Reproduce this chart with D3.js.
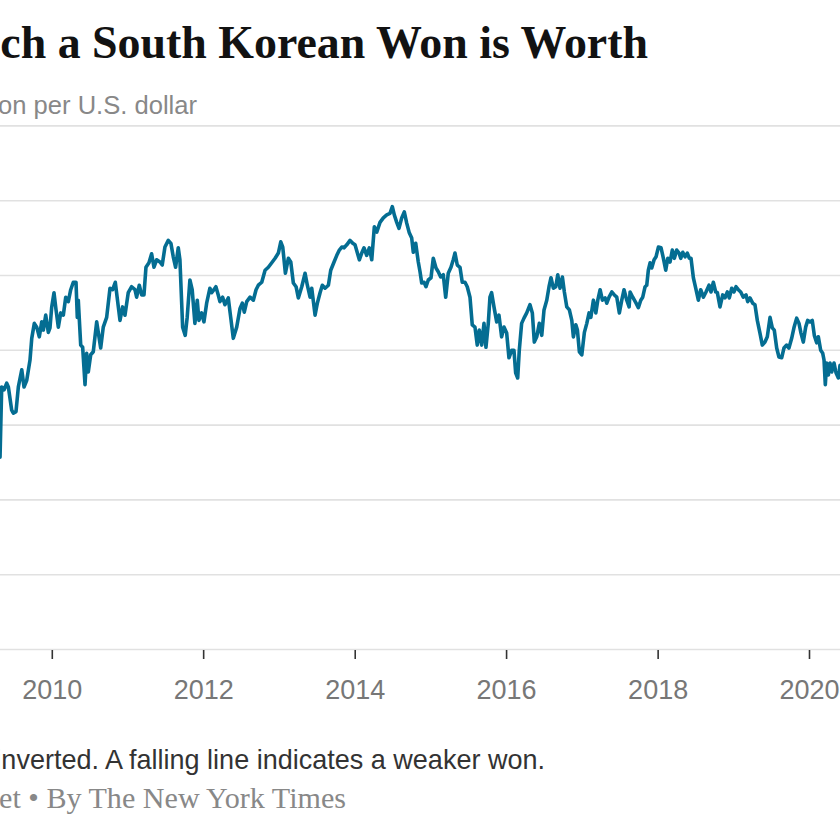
<!DOCTYPE html>
<html>
<head>
<meta charset="utf-8">
<script src="https://cdn.jsdelivr.net/npm/d3@7"></script>
<style>
  html, body { margin: 0; padding: 0; background: #fff; }
  svg { display: block; }
</style>
</head>
<body>
<svg id="chart" width="840" height="840"></svg>
<script>
// ---- Data (decimal year, won per U.S. dollar) ----
const dateValues = [
  2009.316,2009.338,2009.369,2009.404,2009.426,2009.470,2009.492,2009.527,2009.558,2009.603,
  2009.633,2009.669,2009.712,2009.735,2009.769,2009.801,2009.835,2009.867,2009.888,2009.920,
  2009.954,2009.976,2009.999,2010.029,2010.056,2010.086,2010.118,2010.152,2010.184,2010.218,
  2010.250,2010.284,2010.320,2010.337,2010.350,2010.382,2010.408,2010.439,2010.461,2010.482,
  2010.514,2010.548,2010.593,2010.646,2010.680,2010.725,2010.769,2010.804,2010.839,2010.901,
  2010.936,2010.967,2011.010,2011.055,2011.099,2011.121,2011.156,2011.187,2011.218,2011.244,
  2011.284,2011.319,2011.350,2011.385,2011.429,2011.459,2011.495,2011.539,2011.574,2011.605,
  2011.636,2011.671,2011.693,2011.729,2011.763,2011.789,2011.825,2011.855,2011.891,2011.922,
  2011.944,2011.980,2012.010,2012.046,2012.089,2012.112,2012.142,2012.168,2012.199,2012.221,
  2012.257,2012.287,2012.331,2012.363,2012.397,2012.442,2012.486,2012.516,2012.542,2012.574,
  2012.618,2012.661,2012.697,2012.727,2012.772,2012.816,2012.859,2012.904,2012.948,2012.991,
  2013.023,2013.049,2013.084,2013.123,2013.155,2013.189,2013.225,2013.255,2013.300,2013.344,
  2013.374,2013.410,2013.432,2013.476,2013.506,2013.542,2013.572,2013.608,2013.652,2013.683,
  2013.727,2013.763,2013.797,2013.829,2013.859,2013.895,2013.938,2013.974,2014.004,2014.061,
  2014.093,2014.123,2014.158,2014.193,2014.225,2014.259,2014.291,2014.334,2014.378,2014.423,
  2014.466,2014.497,2014.523,2014.555,2014.585,2014.621,2014.655,2014.687,2014.721,2014.753,
  2014.774,2014.806,2014.840,2014.863,2014.885,2014.916,2014.942,2014.972,2015.008,2015.038,
  2015.074,2015.104,2015.136,2015.170,2015.202,2015.236,2015.272,2015.302,2015.325,2015.355,
  2015.391,2015.421,2015.457,2015.487,2015.523,2015.553,2015.589,2015.619,2015.646,2015.678,
  2015.708,2015.734,2015.765,2015.787,2015.809,2015.840,2015.876,2015.906,2015.941,2015.972,
  2016.008,2016.038,2016.074,2016.104,2016.126,2016.153,2016.174,2016.205,2016.236,2016.272,
  2016.315,2016.346,2016.372,2016.404,2016.438,2016.470,2016.500,2016.536,2016.566,2016.592,
  2016.623,2016.655,2016.681,2016.711,2016.742,2016.768,2016.800,2016.834,2016.866,2016.887,
  2016.919,2016.940,2016.966,2016.998,2017.032,2017.064,2017.094,2017.117,2017.151,2017.183,
  2017.209,2017.240,2017.270,2017.306,2017.328,2017.358,2017.394,2017.428,2017.460,2017.494,
  2017.526,2017.556,2017.592,2017.623,2017.636,2017.671,2017.715,2017.745,2017.777,2017.803,
  2017.834,2017.856,2017.877,2017.900,2017.922,2017.953,2017.979,2018.010,2018.045,2018.076,
  2018.107,2018.134,2018.164,2018.194,2018.221,2018.252,2018.283,2018.305,2018.332,2018.362,
  2018.392,2018.419,2018.441,2018.472,2018.503,2018.538,2018.569,2018.604,2018.639,2018.679,
  2018.705,2018.736,2018.767,2018.789,2018.824,2018.860,2018.890,2018.921,2018.947,2018.979,
  2019.009,2019.036,2019.066,2019.098,2019.132,2019.168,2019.190,2019.220,2019.256,2019.286,
  2019.317,2019.352,2019.383,2019.418,2019.449,2019.485,2019.515,2019.541,2019.573,2019.603,
  2019.639,2019.669,2019.705,2019.735,2019.771,2019.801,2019.837,2019.868,2019.894,2019.925,
  2019.956,2019.983,2020.013,2020.043,2020.070,2020.101,2020.123,2020.154,2020.181,2020.198,
  2020.215,2020.233,2020.255,2020.277,2020.299,2020.330,2020.356,2020.387,2020.409
];
const wonValues = [
  1343,1249,1253,1244,1249,1280,1284,1282,1249,1226,
  1249,1240,1213,1184,1164,1169,1182,1162,1173,1153,
  1176,1170,1142,1123,1146,1169,1150,1153,1129,1135,
  1119,1109,1109,1156,1133,1193,1196,1246,1204,1229,
  1206,1202,1162,1197,1169,1156,1117,1119,1109,1160,
  1142,1153,1123,1115,1119,1129,1113,1126,1126,1089,
  1083,1071,1089,1079,1082,1086,1062,1053,1057,1075,
  1089,1063,1079,1169,1180,1156,1106,1119,1164,1133,
  1160,1150,1162,1137,1117,1123,1119,1115,1126,1135,
  1129,1139,1130,1156,1184,1169,1144,1137,1149,1135,
  1129,1133,1119,1113,1109,1093,1089,1083,1077,1070,
  1055,1062,1097,1077,1082,1110,1115,1130,1115,1097,
  1113,1129,1117,1153,1137,1123,1113,1117,1113,1093,
  1082,1073,1066,1062,1063,1059,1053,1057,1059,1079,
  1070,1063,1073,1063,1079,1035,1042,1029,1023,1019,
  1017,1008,1019,1029,1037,1023,1015,1030,1043,1050,
  1069,1057,1082,1095,1110,1109,1115,1106,1103,1077,
  1090,1095,1102,1099,1129,1097,1089,1079,1070,1086,
  1089,1109,1109,1115,1129,1166,1169,1193,1173,1193,
  1164,1196,1164,1129,1123,1142,1162,1153,1182,1169,
  1177,1210,1200,1200,1230,1237,1200,1164,1157,1150,
  1139,1150,1189,1182,1164,1180,1146,1133,1115,1103,
  1117,1115,1099,1117,1102,1122,1142,1146,1160,1182,
  1166,1173,1202,1206,1176,1164,1150,1156,1133,1150,
  1133,1119,1133,1130,1137,1129,1122,1126,1129,1150,
  1133,1119,1133,1142,1122,1129,1137,1143,1133,1129,
  1115,1113,1093,1083,1090,1079,1075,1062,1063,1077,
  1093,1077,1082,1066,1077,1066,1070,1077,1069,1075,
  1070,1077,1077,1103,1117,1133,1119,1129,1122,1113,
  1122,1109,1122,1123,1142,1126,1130,1122,1130,1117,
  1122,1115,1119,1122,1129,1126,1135,1130,1137,1139,
  1160,1177,1193,1189,1182,1156,1170,1173,1197,1209,
  1210,1197,1193,1197,1184,1170,1157,1164,1177,1189,
  1169,1160,1162,1160,1180,1190,1182,1200,1204,1213,
  1246,1217,1233,1217,1229,1217,1230,1237,1220
];
const gridValues = [900, 1000, 1100, 1200, 1300, 1400, 1500, 1600];
const tickYears = [2010, 2012, 2014, 2016, 2018, 2020];

const titleText = "How Much a South Korean Won is Worth";
const subtitleText = "Won per U.S. dollar";
const noteText = "Note: Scale is inverted. A falling line indicates a weaker won.";
const sourceText = "Source: FactSet \u2022 By The New York Times";

// ---- Build ----
const W = 840, H = 840;
const svg = d3.select("#chart");

function decToDate(d) {
  const yr = Math.floor(d);
  const s = new Date(yr, 0, 1), e = new Date(yr + 1, 0, 1);
  return new Date(+s + (d - yr) * (e - s));
}
const data = dateValues.map((d, i) => ({ date: decToDate(d), value: wonValues[i] }));

const x = d3.scaleTime()
  .domain([new Date(2010, 0, 1), new Date(2020, 0, 1)])
  .range([51.8, 809]);
const y = d3.scaleLinear()
  .domain([900, 1600])   // inverted: weaker won lower
  .range([125.9, 649.5]);

// gridlines
svg.append("g").selectAll("line").data(gridValues).join("line")
  .attr("x1", 0).attr("x2", W)
  .attr("y1", d => y(d)).attr("y2", d => y(d))
  .attr("stroke", "#e1e1e1").attr("stroke-width", 1.6);

// x axis
const xAxis = d3.axisBottom(x)
  .tickValues(tickYears.map(t => new Date(t, 0, 1)))
  .tickFormat(d3.timeFormat("%Y"))
  .tickSize(9).tickPadding(0);
const gx = svg.append("g").attr("transform", `translate(0,${y(1600) + 0.5})`).call(xAxis);
gx.select(".domain").remove();
gx.selectAll(".tick line").attr("stroke", "#333").attr("stroke-width", 1.6);
gx.selectAll(".tick text")
  .attr("y", 49).attr("dy", 0)
  .attr("fill", "#777")
  .style("font-family", "'Liberation Sans', Arial, sans-serif")
  .style("font-size", "27px");

// line
const line = d3.line().x(d => x(d.date)).y(d => y(d.value));
svg.append("path").datum(data)
  .attr("d", line)
  .attr("fill", "none")
  .attr("stroke", "#046d92")
  .attr("stroke-width", 3.6)
  .attr("stroke-linejoin", "round")
  .attr("stroke-linecap", "round");

// Text fitted so the visible part spans the same width as in the picture
function fitted(full, visible, rightX, visWidth, baseY, family, weight, color) {
  const probe = svg.append("text")
    .style("font-family", family).style("font-weight", weight)
    .style("font-size", "100px").text(visible);
  const len = probe.node().getComputedTextLength();
  probe.remove();
  const fs = 100 * visWidth / len;
  svg.append("text")
    .attr("x", rightX).attr("y", baseY)
    .attr("text-anchor", "end")
    .style("font-family", family).style("font-weight", weight)
    .style("font-size", fs + "px")
    .attr("fill", color)
    .text(full);
}
const serif = "'Liberation Serif', 'DejaVu Serif', Georgia, serif";
const sans = "'Liberation Sans', Arial, sans-serif";
fitted(titleText, "ch a South Korean Won is Worth", 648, 648, 58, serif, "bold", "#121212");
fitted(subtitleText, "on per U.S. dollar", 197, 199, 114, sans, "normal", "#888");
fitted(noteText, "nverted. A falling line indicates a weaker won.", 545, 544, 769, sans, "normal", "#333");
fitted(sourceText, "et \u2022 By The New York Times", 346, 347, 808, serif, "normal", "#888");
</script>
</body>
</html>
